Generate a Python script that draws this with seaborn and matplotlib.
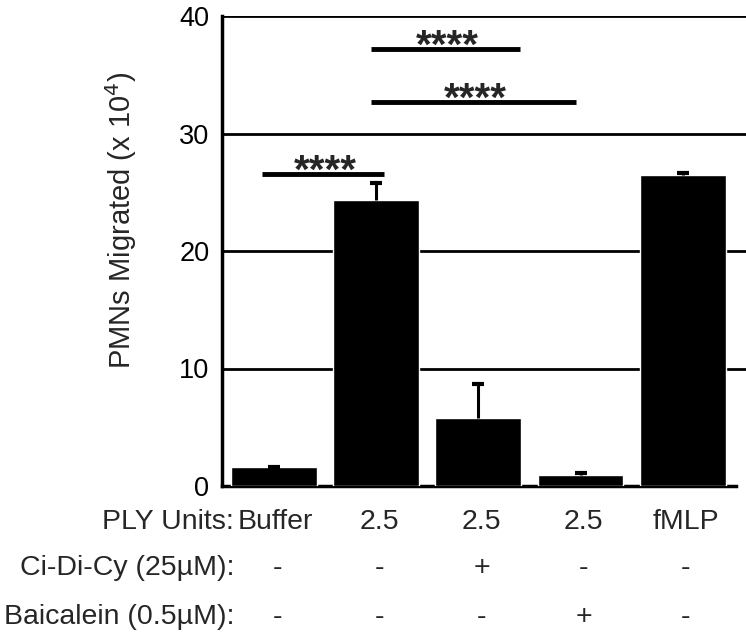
import matplotlib
matplotlib.use("Agg")
import matplotlib.pyplot as plt
import matplotlib.transforms as mtransforms
import numpy as np
import pandas as pd
import seaborn as sns

# ── Data ──────────────────────────────────────────────────────────────
groups = ["g1", "g2", "g3", "g4", "g5"]
ply_units = ["Buffer", "2.5", "2.5", "2.5", "fMLP"]
cidicy = ["-", "-", "+", "-", "-"]
baicalein = ["-", "-", "-", "+", "-"]
migrated = [1.6, 24.3, 5.8, 0.9, 26.5]
sem = [0.0, 1.5, 2.9, 0.2, 0.1]

# significance bars: start / end (category units) and height
sig_start = [-0.12, 0.95, 0.95]
sig_end = [1.08, 2.41, 2.96]
sig_height = [26.55, 37.2, 32.7]
sig_text = ["****", "****", "****"]

FONT = "Liberation Sans"

sns.set_theme(style="white")
plt.rcParams["font.family"] = [FONT, "DejaVu Sans"]

df = pd.DataFrame({"group": groups, "value": migrated})

fig = plt.figure(figsize=(7.46, 6.39), dpi=100)
ax = fig.add_axes([222 / 746, 1 - 486 / 639, 1 - 222 / 746, 470 / 639])

sns.barplot(data=df, x="group", y="value", order=groups, color="black",
            saturation=1, width=0.84, errorbar=None, ax=ax, zorder=3)

# upper-only error bars with a short cap
x = np.arange(len(groups))
tops = np.array(migrated) + np.array(sem)
ax.vlines(x, migrated, tops, color="black", lw=2.2, zorder=4)
ax.plot(x, tops, ls="none", marker="_", ms=9, mew=3, color="black", zorder=4)

# horizontal grid lines
for yv in [10, 20, 30, 40]:
    ax.axhline(yv, color="black", lw=2, zorder=1)

ax.set_ylim(0, 40)
ax.set_xlim(-0.51, 4.62)
ax.set_yticks([0, 10, 20, 30, 40])
ax.set_yticklabels(["0", "10", "20", "30", "40"], fontsize=19.5)
ax.set_xticks(x + 0.42)
ax.set_xticklabels([])
ax.tick_params(axis="x", direction="out", length=4, width=1.5, colors="black")
ax.tick_params(axis="y", length=0, pad=9, colors="black")
for s in ["top", "right"]:
    ax.spines[s].set_visible(False)
ax.spines["left"].set_color("black")
ax.spines["left"].set_linewidth(2.5)
ax.spines["bottom"].set_color("black")
ax.spines["bottom"].set_linewidth(2.5)
ax.spines["bottom"].set_bounds(-0.51, 4.52)
ax.set_xlabel("")
ax.set_ylabel("")
ax.grid(False)

fig.text(121 / 746, 1 - 220 / 639, r"PMNs Migrated (x 10$^4$)", rotation=90,
         ha="center", va="center", fontsize=21, family=FONT)

# significance bars
for xs, xe, h, t in zip(sig_start, sig_end, sig_height, sig_text):
    ax.plot([xs, xe], [h, h], color="black", lw=3.5, solid_capstyle="butt",
            zorder=5, clip_on=False)
    ax.text((xs + xe) / 2 + 0.02, h - 0.77, t, ha="center", va="baseline",
            fontsize=29, fontweight="bold", family=FONT)

# condition table below the axis
trans = mtransforms.blended_transform_factory(ax.transData, fig.transFigure)
rows = [("PLY Units:", ply_units, 522), ("Ci-Di-Cy (25\u00b5M):", cidicy, 568),
        ("Baicalein (0.5\u00b5M):", baicalein, 617)]
for label, vals, ypix in rows:
    yf = 1 - ypix / 639
    fig.text(234 / 746, yf, label, ha="right", va="center", fontsize=20.5, family=FONT)
    for i, v in enumerate(vals):
        if label.startswith("PLY") and i == 0:
            fig.text(238 / 746, yf, v, ha="left", va="center", fontsize=20.5, family=FONT)
        else:
            ax.text(i + 0.03, yf, v, transform=trans, ha="center", va="center",
                    fontsize=20.5, family=FONT)

fig.savefig("out.png", dpi=100, facecolor="white")
